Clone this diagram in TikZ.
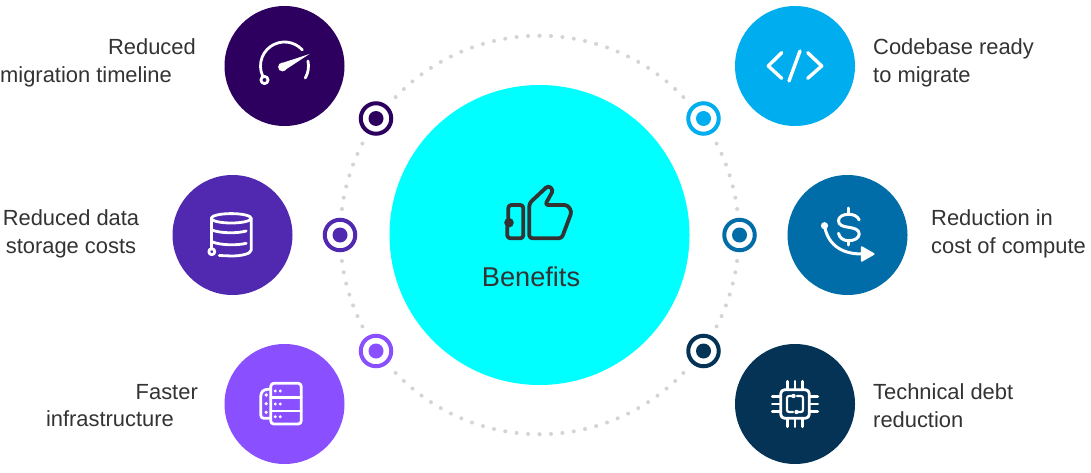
\documentclass[tikz,border=0pt]{standalone}
\usepackage{fontspec}
\setmainfont{Liberation Sans}
\definecolor{cA}{HTML}{2D0060}
\definecolor{cB}{HTML}{5128B0}
\definecolor{cC}{HTML}{8A50FF}
\definecolor{cD}{HTML}{00ADEE}
\definecolor{cE}{HTML}{006CA8}
\definecolor{cF}{HTML}{043356}
\definecolor{cG}{HTML}{00FFFF}
\definecolor{dotc}{HTML}{D4D4D4}
\definecolor{txt}{HTML}{333333}
\tikzset{
  x=1pt,y=1pt,
  big/.style={circle,minimum size=120pt,inner sep=0pt,fill=#1},
  hub/.style={circle,minimum size=300pt,inner sep=0pt,fill=cG},
  ring/.style={circle,minimum size=30.5pt,inner sep=0pt,draw=#1,line width=4pt,fill=white},
  core/.style={circle,minimum size=15pt,inner sep=0pt,fill=#1},
  lbl/.style={text=txt,font=\fontsize{21.9}{27.5}\selectfont,inner sep=0pt},
  ico/.style={draw=white,line width=2.8pt,line cap=round,line join=round},
  dark/.style={draw=txt,line width=3.8pt,line cap=round,line join=round}
}
\begin{document}
\begin{tikzpicture}
\useasboundingbox (0,0) rectangle (1091,472);
\fill[white] (0,0) rectangle (1091,472);
% dotted ring
\coordinate (ctr) at (539.5,237);
\begin{scope}[shift={(ctr)}]
\foreach \k in {0,...,14,19,20,21,22,23,24,25}{
  \pgfmathsetmacro{\ang}{90-3.3*\k}
  \pgfmathsetmacro{\dx}{199.3*cos(\ang)}
  \pgfmathsetmacro{\dy}{199.3*sin(\ang)}
  \fill[dotc] (\dx,\dy) circle (2);
  \fill[dotc] (-\dx,\dy) circle (2);
  \fill[dotc] (\dx,-\dy) circle (2);
  \fill[dotc] (-\dx,-\dy) circle (2);
}
\end{scope}
\node[hub] (hubn) at (ctr) {};
\node[big=cA] (a) at (284.5,406) {};
\node[big=cB] (b) at (232.5,237) {};
\node[big=cC] (c) at (284.5,68) {};
\node[big=cD] (d) at (795,406) {};
\node[big=cE] (e) at (847.5,237) {};
\node[big=cF] (f) at (795,68) {};
\foreach \n/\x/\y/\c in {ra/376/353.5/cA,rb/340/237/cB,rc/376/121/cC,rd/703.5/353.5/cD,re/739.5/237/cE,rf/703.5/121/cF}{
  \node[ring=\c] (\n) at (\x,\y) {};
  \node[core=\c] (\n c) at (\x,\y) {};
}
% labels
\node[lbl,align=right,anchor=east] (la) at (196,409) {Reduced\\migration timeline\rule{24pt}{0pt}};
\node[lbl,align=center] (lb) at (71,238) {Reduced data\\storage costs};
\node[lbl,align=right,anchor=east] (lc) at (198,66.5) {Faster\\infrastructure\rule{24pt}{0pt}};
\node[lbl,align=left,anchor=west] (ld) at (873,409) {Codebase ready\\to migrate};
\node[lbl,align=left,anchor=west] (le) at (931,238) {Reduction in\\cost of compute};
\node[lbl,align=left,anchor=west] (lf) at (873,66.5) {Technical debt\\reduction};
\node[text=txt,font=\fontsize{27.2}{30}\selectfont,anchor=base,inner sep=0pt] (bn) at (531,186) {Benefits};
% thumb
\begin{scope}[shift={(hubn.center)}]
  \draw[dark,rounded corners=3pt] (-10.2,31.7) -- (8.8,49.5) -- (13.8,45) -- (5.5,30) -- (28,30) -- (32.2,23.3) -- (22.2,-3.3) -- (-10.2,-3.3) -- cycle;
  \draw[dark,rounded corners=3pt] (-31.2,15) -- (-31.2,30) -- (-16.2,30) -- (-16.2,-3.3) -- (-32.2,-3.3) -- (-32.2,8.3);
  \fill[txt] (-30.5,12.3) circle (4.8);
\end{scope}
% gauge
\begin{scope}[shift={(a.center)}]
  \draw[ico] (215:24) arc[start angle=215,end angle=42,radius=24];
  \draw[ico] (12:24) arc[start angle=12,end angle=-30,radius=24];
  \draw[ico,fill=cA] (-20,-14) circle (3.6);
  \fill[white] (-2,-1) circle (4.4);
  \fill[white] (25,12) -- (-3.6,2.6) -- (-0.4,-4.6) -- cycle;
\end{scope}
% database
\begin{scope}[shift={(b.center)}]
  \draw[ico] (-1.3,16.7) ellipse [x radius=20,y radius=4.7];
  \draw[ico] (-21.3,16.7) -- (-21.3,-13);
  \draw[ico] (18.7,16.7) -- (18.7,-15) .. controls (18.7,-19) and (8,-21) .. (-1,-21) -- (-13.3,-20.5);
  \draw[ico] (-20.7,5) .. controls (-12,1.5) and (5,1.5) .. (13.7,4);
  \draw[ico] (-20.7,-6.7) .. controls (-12,-10.5) and (5,-10.5) .. (13.7,-8.3);
  \draw[ico,fill=cB] (-20.7,-16.7) circle (3);
\end{scope}
% servers
\begin{scope}[shift={(c.center)}]
  \draw[ico,rounded corners=3pt] (-13.7,14.7) -- (-20,14.7) -- (-23.7,11) -- (-23.7,-14.3) -- (-13.7,-14.3);
  \draw[ico,rounded corners=3pt] (-13.7,-20) rectangle (16.7,20.7);
  \draw[ico] (-13.7,6.3) -- (16.7,6.3);
  \draw[ico] (-13.7,-7) -- (16.7,-7);
  \foreach \y in {13,0,-12.7}{
    \fill[white] (-9.3,\y) circle (1.6);
    \fill[white] (-4.3,\y) circle (1.6);
  }
  \foreach \y in {9,0.3,-8.3}{
    \fill[white] (-18.3,\y) circle (1.8);
  }
\end{scope}
% code
\begin{scope}[shift={(d.center)}]
  \draw[ico,line width=3.4pt] (-13.3,13.3) -- (-26.7,0) -- (-13.3,-12.3);
  \draw[ico,line width=3.4pt] (12.7,13.3) -- (26.7,0) -- (12.7,-12.3);
  \draw[ico,line width=3.4pt] (5,15) -- (-6,-15);
\end{scope}
% dollar
\begin{scope}[shift={(e.center)}]
  \draw[ico,line width=3pt] (11.7,15) .. controls (10,19) and (6,20.7) .. (1,20.7) .. controls (-5,20.7) and (-9,18) .. (-9,14.3) .. controls (-9,10) and (-5,8.5) .. (1,7.7) .. controls (7,6.8) and (11.7,5.5) .. (11.7,1) .. controls (11.7,-3) and (7,-5.7) .. (1,-5.7) .. controls (-4,-5.7) and (-8,-3) .. (-9,1.7);
  \draw[ico,line width=3pt] (1,27) -- (1,21);
  \draw[ico,line width=3pt] (1,-6) -- (1,-10);
  \fill[white] (-23,9.3) circle (3.6);
  \draw[ico,line width=3pt] (-23,9.3) .. controls (-20,-8) and (-8,-19) .. (14.3,-19);
  \fill[white,draw=white,line width=2pt,line join=round] (14.3,-12.3) -- (26,-19) -- (14.3,-25.7) -- cycle;
\end{scope}
% chip
\begin{scope}[shift={(f.center)}]
  \draw[ico,rounded corners=4pt] (-14.3,-14.3) rectangle (14.3,14.3);
  \foreach \p in {-7.3,0,7.3}{
    \draw[ico] (\p,14.3) -- (\p,22.7);
    \draw[ico] (\p,-14.3) -- (\p,-22.7);
    \draw[ico] (-14.3,\p) -- (-22.7,\p);
    \draw[ico] (14.3,\p) -- (22.7,\p);
  }
  \draw[ico,line width=2.2pt,rounded corners=2pt] (-2,8) -- (-8,8) -- (-8,-8) -- (-2,-8);
  \draw[ico,line width=2.2pt,rounded corners=2pt] (2,8) -- (8,8) -- (8,-8) -- (2,-8);
  \fill[white] (-1.5,8) circle (2.2);
  \fill[white] (1.5,-8) circle (2.2);
\end{scope}
\end{tikzpicture}
\end{document}
